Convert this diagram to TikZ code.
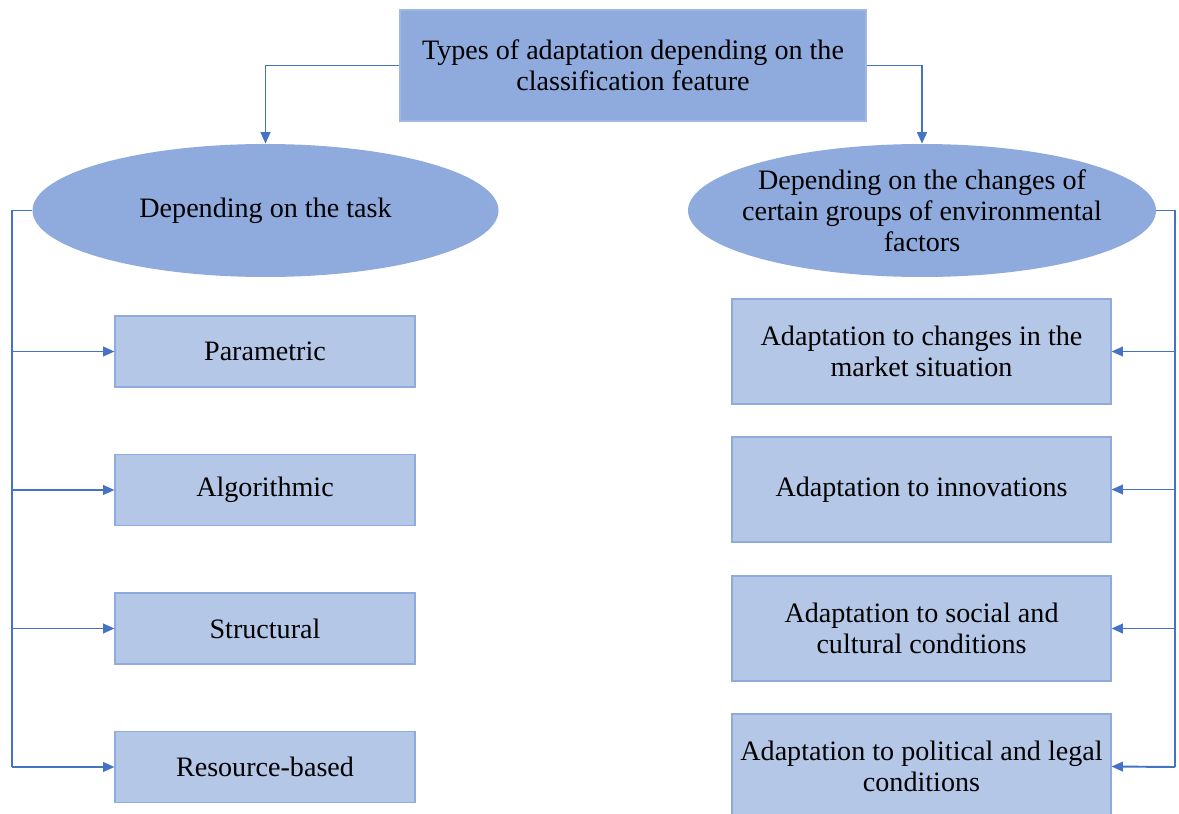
\documentclass[tikz,border=0pt]{standalone}
\usepackage{fontspec}
\setmainfont{Liberation Serif}
\usetikzlibrary{arrows.meta,shapes.geometric}
\definecolor{dark}{RGB}{143,170,220}
\definecolor{light}{RGB}{180,199,231}
\definecolor{edge}{RGB}{143,170,220}
\definecolor{conn}{RGB}{68,114,196}
\begin{document}
\begin{tikzpicture}[x=0.02cm,y=-0.02cm,
  txt/.style={font=\fontsize{16}{17.6}\selectfont, align=center, inner sep=0pt, text=black},
  topbox/.style={txt, rectangle, fill=dark, draw=dark!85!white, line width=0.6pt},
  oval/.style={txt, ellipse, fill=dark, draw=none},
  leaf/.style={txt, rectangle, fill=light, draw=edge, line width=0.6pt},
  conline/.style={draw=conn, line width=1.1pt},
  arr/.style={conline, -{Triangle[length=6.5pt,width=5.5pt]}}]
\useasboundingbox (0,0) rectangle (1179,814);
\node[topbox, minimum width=466*0.02cm, minimum height=111*0.02cm] (top) at (633,65.5) {Types of adaptation depending on the\\classification feature};
\node[oval, minimum width=466*0.02cm, minimum height=133*0.02cm] (le) at (265.5,210.5) {Depending on the task};
\node[oval, inner xsep=-12pt, minimum width=468*0.02cm, minimum height=133*0.02cm] (re) at (922,210.5) {\fontsize{16}{18.8}\selectfont Depending on the changes of\\certain groups of environmental\\factors};
\node[leaf, minimum width=300*0.02cm, minimum height=71*0.02cm] (p1) at (265,351.5) {Parametric};
\node[leaf, minimum width=300*0.02cm, minimum height=71*0.02cm] (p2) at (265,490) {Algorithmic};
\node[leaf, minimum width=300*0.02cm, minimum height=71*0.02cm] (p3) at (265,628.5) {Structural};
\node[leaf, minimum width=300*0.02cm, minimum height=71*0.02cm] (p4) at (265,767) {Resource-based};
\node[leaf, minimum width=379*0.02cm, minimum height=105*0.02cm] (r1) at (921.5,351.5) {Adaptation to changes in the\\market situation};
\node[leaf, minimum width=379*0.02cm, minimum height=105*0.02cm] (r2) at (921.5,489.5) {Adaptation to innovations};
\node[leaf, minimum width=379*0.02cm, minimum height=105*0.02cm] (r3) at (921.5,628.5) {Adaptation to social and\\cultural conditions};
\node[leaf, minimum width=379*0.02cm, minimum height=105*0.02cm] (r4) at (921.5,766.5) {Adaptation to political and legal\\conditions};
\draw[arr] (top.west) -| (le.north);
\draw[arr] (top.east) -| (re.north);
\coordinate (lt) at (12,210.5);
\coordinate (lb) at (12,767);
\coordinate (rt) at (1175,210.5);
\coordinate (rb) at (1175,767);
\draw[conline] (le.west) -- (lt) -- (lb);
\draw[arr] (lt |- p1.west) -- (p1.west);
\draw[arr] (lt |- p2.west) -- (p2.west);
\draw[arr] (lt |- p3.west) -- (p3.west);
\draw[arr] (lb) -- (p4.west);
\draw[conline] (re.east) -- (rt) -- (rb);
\draw[arr] (rt |- r1.east) -- (r1.east);
\draw[arr] (rt |- r2.east) -- (r2.east);
\draw[arr] (rt |- r3.east) -- (r3.east);
\draw[arr] (rb) -- (r4.east);
\end{tikzpicture}
\end{document}
